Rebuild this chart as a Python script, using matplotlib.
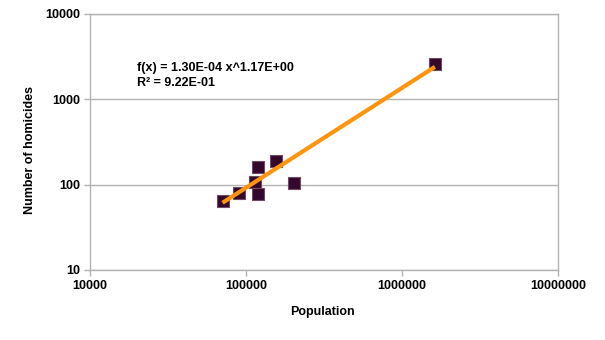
import numpy as np
import matplotlib

matplotlib.use("Agg")
import matplotlib.pyplot as plt
from matplotlib.ticker import FixedLocator, FixedFormatter, NullLocator

plt.rcParams["font.family"] = ["Liberation Sans", "DejaVu Sans"]

# city populations and homicide counts
population = [70700, 89600, 118700, 154900, 114700, 118700, 202200, 1626000]
homicides = [64.4, 79.3, 162.5, 189.6, 108.4, 77.8, 103.8, 2577]

# power-law trendline shown on the chart
fit_a = 1.30e-4
fit_b = 1.17
fit_r2 = 0.922

x_ticks = [1e4, 1e5, 1e6, 1e7]
x_labels = ["10000", "100000", "1000000", "10000000"]
y_ticks = [10, 100, 1000, 10000]
y_labels = ["10", "100", "1000", "10000"]

grey = "#b3b3b3"

fig = plt.figure(figsize=(6.05, 3.4), dpi=100)
ax = fig.add_axes([90 / 605, 1 - 270 / 340, 468 / 605, 256 / 340])
ax.set_xscale("log")
ax.set_yscale("log")
ax.set_xlim(1e4, 1e7)
ax.set_ylim(10, 1e4)

for s in ax.spines.values():
    s.set_color(grey)
    s.set_linewidth(1)
for y in y_ticks:
    ax.axhline(y, color=grey, linewidth=1, zorder=0)

ax.xaxis.set_major_locator(FixedLocator(x_ticks))
ax.xaxis.set_major_formatter(FixedFormatter(x_labels))
ax.yaxis.set_major_locator(FixedLocator(y_ticks))
ax.yaxis.set_major_formatter(FixedFormatter(y_labels))
ax.xaxis.set_minor_locator(NullLocator())
ax.yaxis.set_minor_locator(NullLocator())
ax.tick_params(length=4, width=1, color=grey, labelsize=9, pad=3)
for lbl in ax.get_xticklabels() + ax.get_yticklabels():
    lbl.set_fontweight("bold")

ax.scatter(population, homicides, marker="s", s=80, facecolor="#33082c",
           edgecolor="#6e4a66", linewidth=0.8, zorder=3)

xs = np.array([min(population), max(population)])
ax.plot(xs, fit_a * xs ** fit_b, color="#ff950e", linewidth=3,
        solid_capstyle="butt", zorder=4)

ax.text(137 / 605, 1 - 68 / 340, f"f(x) = {fit_a:.2E} x^{fit_b:.2E}",
        transform=fig.transFigure, fontsize=9, fontweight="bold", va="center")
ax.text(137 / 605, 1 - 83 / 340, f"R² = {fit_r2:.2E}",
        transform=fig.transFigure, fontsize=9, fontweight="bold", va="center")

fig.text(322 / 605, 1 - 312 / 340, "Population", ha="center", va="center",
         fontsize=9, fontweight="bold")
fig.text(30 / 605, 1 - 150 / 340, "Number of homicides", ha="center",
         va="center", rotation=90, fontsize=9, fontweight="bold")

fig.savefig("out.png", dpi=100)
